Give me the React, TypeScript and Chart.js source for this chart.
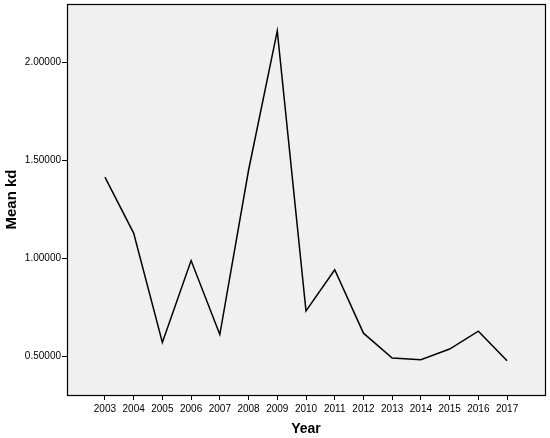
import React, { useEffect, useRef } from "react";
import { Chart, registerables } from "chart.js";

Chart.register(...registerables);

const years = [2003, 2004, 2005, 2006, 2007, 2008, 2009, 2010, 2011, 2012, 2013, 2014, 2015, 2016, 2017];
const meanKd = [1.415, 1.13, 0.573, 0.99, 0.613, 1.45, 2.16, 0.733, 0.943, 0.62, 0.493, 0.485, 0.539, 0.63, 0.48];
const yTickValues = [0.5, 1.0, 1.5, 2.0];
const xTitle = "Year";
const yTitle = "Mean kd";

const plotBg = {
  id: "plotBg",
  beforeDraw(chart: any) {
    const { ctx, chartArea } = chart;
    ctx.save();
    ctx.fillStyle = "#f0f0f0";
    ctx.fillRect(chartArea.left, chartArea.top, chartArea.right - chartArea.left, chartArea.bottom - chartArea.top);
    ctx.restore();
  },
  afterDraw(chart: any) {
    const { ctx, chartArea } = chart;
    ctx.save();
    ctx.strokeStyle = "#000";
    ctx.lineWidth = 1.2;
    ctx.strokeRect(Math.round(chartArea.left) + 0.5, Math.round(chartArea.top) + 0.5, Math.round(chartArea.right - chartArea.left), Math.round(chartArea.bottom - chartArea.top));
    ctx.restore();
  },
};

export default function App() {
  const ref = useRef<HTMLCanvasElement>(null);
  useEffect(() => {
    document.body.style.margin = "0";
    const chart = new Chart(ref.current!, {
      type: "line",
      data: {
        datasets: [
          {
            data: years.map((y, i) => ({ x: y, y: meanKd[i] })),
            borderColor: "#000",
            borderWidth: 1.5,
            pointRadius: 0,
            tension: 0,
            fill: false,
          },
        ],
      },
      options: {
        animation: false,
        responsive: false,
        devicePixelRatio: 1,
        layout: { padding: { left: 3, right: 5, top: 4, bottom: 0 } },
        plugins: { legend: { display: false }, tooltip: { enabled: false } },
        scales: {
          x: {
            type: "linear",
            min: 2001.68,
            max: 2018.32,
            afterBuildTicks: (s: any) => {
              s.ticks = years.map((v) => ({ value: v }));
            },
            afterFit: (s: any) => {
              s.height = 43;
              s.paddingLeft = 0;
              s.paddingRight = 0;
            },
            grid: { drawOnChartArea: false, drawTicks: true, tickLength: 5, color: "#000" },
            border: { display: true, color: "#000", width: 1 },
            ticks: {
              color: "#000",
              font: { family: "'Liberation Sans', Arial, sans-serif", size: 10 },
              padding: 3,
              maxRotation: 0,
              autoSkip: false,
              callback: (v: any) => String(v),
            },
            title: {
              display: true,
              text: xTitle,
              color: "#000",
              font: { family: "'Liberation Sans', Arial, sans-serif", size: 14, weight: "bold" },
              padding: { top: 6, bottom: 0 },
            },
          },
          y: {
            type: "linear",
            min: 0.305,
            max: 2.297,
            afterBuildTicks: (s: any) => {
              s.ticks = yTickValues.map((v) => ({ value: v }));
            },
            afterFit: (s: any) => {
              s.width = 64;
              s.paddingTop = 0;
              s.paddingBottom = 0;
            },
            grid: { drawOnChartArea: false, drawTicks: true, tickLength: 5, color: "#000" },
            border: { display: true, color: "#000", width: 1 },
            ticks: {
              color: "#000",
              font: { family: "'Liberation Sans', Arial, sans-serif", size: 10 },
              padding: 1,
              callback: (v: any) => Number(v).toFixed(5),
            },
            title: {
              display: true,
              text: yTitle,
              color: "#000",
              font: { family: "'Liberation Sans', Arial, sans-serif", size: 15, weight: "bold" },
              padding: { top: 0, bottom: 0 },
            },
          },
        },
      },
      plugins: [plotBg],
    });
    return () => chart.destroy();
  }, []);
  return (
    <div style={{ width: 550, height: 438, background: "#fff" }}>
      <canvas ref={ref} width={550} height={438} style={{ display: "block" }} />
    </div>
  );
}
